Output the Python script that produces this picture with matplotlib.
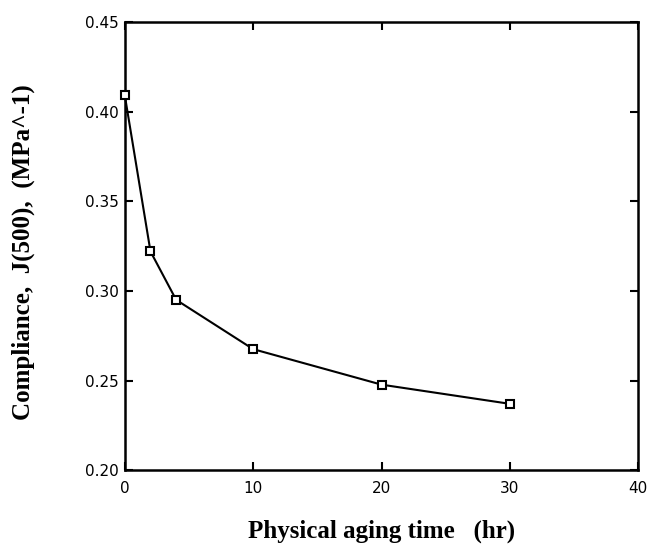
import matplotlib
matplotlib.use("Agg")
import matplotlib.pyplot as plt

# values
aging_time = [0, 2, 4, 10, 20, 30]
compliance = [0.409, 0.322, 0.295, 0.2675, 0.2477, 0.237]

x_ticks = [0, 10, 20, 30, 40]
y_ticks = [0.20, 0.25, 0.30, 0.35, 0.40, 0.45]

fig = plt.figure(figsize=(6.5, 5.48), dpi=100)
ax = fig.add_axes([0.192, 0.142, 0.79, 0.818])

ax.plot(aging_time, compliance, color='black', linewidth=1.5,
        marker='s', markersize=6, markerfacecolor='white',
        markeredgecolor='black', markeredgewidth=1.5, clip_on=False,
        zorder=3)

ax.set_xlim(0, 40)
ax.set_ylim(0.20, 0.45)
ax.set_xticks(x_ticks)
ax.set_yticks(y_ticks)
ax.set_yticklabels([f"{v:.2f}" for v in y_ticks])

for side in ['top', 'bottom', 'left', 'right']:
    ax.spines[side].set_linewidth(1.8)

ax.tick_params(direction='in', length=6, width=1.5, top=True, right=True,
               labelsize=11)
ax.tick_params(axis='x', pad=8)
ax.tick_params(axis='y', pad=4)
for lab in ax.get_xticklabels() + ax.get_yticklabels():
    lab.set_family('DejaVu Sans')

ax.set_xlabel("Physical aging time   (hr)", family='Liberation Serif',
              fontweight='bold', fontsize=18, labelpad=17)
ax.set_ylabel("Compliance,  J(500),  (MPa^-1)", family='Liberation Serif',
              fontweight='bold', fontsize=18, labelpad=36, y=0.487)

fig.savefig("out.png", dpi=100)
